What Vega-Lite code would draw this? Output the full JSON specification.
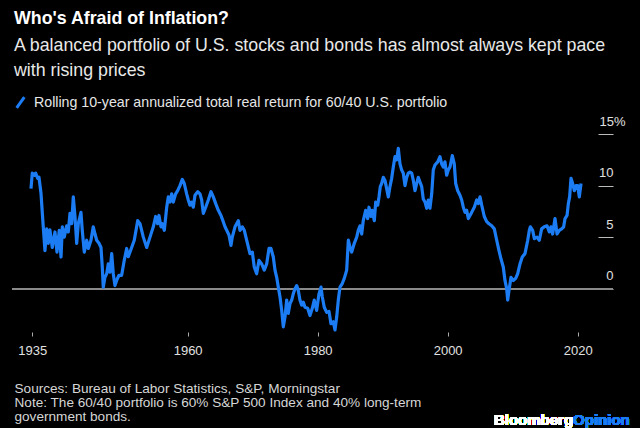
{
  "$schema": "https://vega.github.io/schema/vega-lite/v6.json",
  "width": 601,
  "height": 198,
  "autosize": {"type": "none"},
  "padding": {"left": 12, "top": 134, "right": 27, "bottom": 96},
  "background": "#000000",
  "config": {
    "view": {"stroke": null},
    "font": "Liberation Sans"
  },
  "title": {
    "text": "Who's Afraid of Inflation?",
    "subtitle": ["A balanced portfolio of U.S. stocks and bonds has almost always kept pace", "with rising prices"],
    "anchor": "start",
    "frame": "group",
    "dx": 2,
    "offset": 10,
    "font": "Liberation Sans",
    "fontSize": 17.8,
    "fontWeight": "bold",
    "color": "#ffffff",
    "subtitleFont": "Liberation Sans",
    "subtitleFontSize": 17.8,
    "subtitleColor": "#e8e8e8",
    "subtitleLineHeight": 25,
    "subtitlePadding": 9
  },
  "data": {
    "values": [
      {"t": 1935.90, "r": 9.7}, {"t": 1936.10, "r": 11.2}, {"t": 1936.41, "r": 11.0}, {"t": 1936.62, "r": 11.2},
      {"t": 1936.93, "r": 10.7}, {"t": 1937.13, "r": 10.8}, {"t": 1937.44, "r": 9.25}, {"t": 1937.79, "r": 6.0},
      {"t": 1938.05, "r": 3.7}, {"t": 1938.32, "r": 5.8}, {"t": 1938.56, "r": 4.4}, {"t": 1938.82, "r": 5.7},
      {"t": 1939.18, "r": 4.0}, {"t": 1939.59, "r": 5.5}, {"t": 1939.90, "r": 3.55}, {"t": 1940.25, "r": 5.66},
      {"t": 1940.52, "r": 3.07}, {"t": 1940.72, "r": 6.0}, {"t": 1941.02, "r": 5.0}, {"t": 1941.39, "r": 6.1},
      {"t": 1941.64, "r": 5.5}, {"t": 1941.90, "r": 7.3}, {"t": 1942.16, "r": 6.3}, {"t": 1942.41, "r": 8.9},
      {"t": 1942.67, "r": 7.0}, {"t": 1942.93, "r": 4.4}, {"t": 1943.18, "r": 6.3}, {"t": 1943.59, "r": 7.4},
      {"t": 1943.79, "r": 5.66}, {"t": 1944.10, "r": 3.55}, {"t": 1944.47, "r": 4.7}, {"t": 1944.72, "r": 3.9},
      {"t": 1945.13, "r": 4.7}, {"t": 1945.48, "r": 6.0}, {"t": 1945.75, "r": 5.3}, {"t": 1946.01, "r": 4.7},
      {"t": 1946.36, "r": 4.4}, {"t": 1946.67, "r": 4.0}, {"t": 1946.87, "r": 2.1}, {"t": 1947.02, "r": 0.15},
      {"t": 1947.28, "r": 1.1}, {"t": 1947.55, "r": 1.45}, {"t": 1947.79, "r": 2.4}, {"t": 1948.05, "r": 1.6},
      {"t": 1948.32, "r": 3.4}, {"t": 1948.56, "r": 1.45}, {"t": 1948.82, "r": 0.3}, {"t": 1949.08, "r": 0.8},
      {"t": 1949.44, "r": 1.3}, {"t": 1949.85, "r": 1.3}, {"t": 1950.25, "r": 2.75}, {"t": 1950.62, "r": 3.9},
      {"t": 1950.87, "r": 3.1}, {"t": 1951.39, "r": 4.0}, {"t": 1951.79, "r": 4.7}, {"t": 1952.32, "r": 6.6},
      {"t": 1952.67, "r": 6.3}, {"t": 1953.18, "r": 5.0}, {"t": 1953.70, "r": 4.0}, {"t": 1954.21, "r": 5.0},
      {"t": 1954.72, "r": 6.0}, {"t": 1955.08, "r": 7.0}, {"t": 1955.39, "r": 6.3}, {"t": 1955.59, "r": 7.1},
      {"t": 1955.90, "r": 6.0}, {"t": 1956.10, "r": 6.3}, {"t": 1956.41, "r": 5.66}, {"t": 1956.78, "r": 7.9},
      {"t": 1957.02, "r": 8.9}, {"t": 1957.28, "r": 8.4}, {"t": 1957.55, "r": 9.2}, {"t": 1957.79, "r": 8.4},
      {"t": 1958.16, "r": 9.2}, {"t": 1958.47, "r": 9.5}, {"t": 1958.82, "r": 10.0}, {"t": 1959.18, "r": 10.6},
      {"t": 1959.48, "r": 10.2}, {"t": 1959.85, "r": 9.2}, {"t": 1960.10, "r": 8.6}, {"t": 1960.36, "r": 8.1},
      {"t": 1960.62, "r": 8.4}, {"t": 1960.87, "r": 7.9}, {"t": 1961.13, "r": 9.06}, {"t": 1961.55, "r": 9.4},
      {"t": 1961.90, "r": 9.2}, {"t": 1962.16, "r": 8.6}, {"t": 1962.41, "r": 7.3}, {"t": 1962.78, "r": 7.9},
      {"t": 1963.18, "r": 8.6}, {"t": 1963.59, "r": 9.4}, {"t": 1963.95, "r": 8.9}, {"t": 1964.32, "r": 8.25},
      {"t": 1964.72, "r": 7.6}, {"t": 1965.13, "r": 7.1}, {"t": 1965.48, "r": 6.5}, {"t": 1965.75, "r": 6.0},
      {"t": 1966.01, "r": 5.66}, {"t": 1966.36, "r": 5.2}, {"t": 1966.67, "r": 4.2}, {"t": 1966.87, "r": 5.0},
      {"t": 1967.29, "r": 6.0}, {"t": 1967.79, "r": 6.6}, {"t": 1968.05, "r": 5.66}, {"t": 1968.41, "r": 6.0},
      {"t": 1968.72, "r": 5.66}, {"t": 1969.08, "r": 4.7}, {"t": 1969.59, "r": 3.4}, {"t": 1969.95, "r": 3.55},
      {"t": 1970.25, "r": 2.1}, {"t": 1970.62, "r": 1.45}, {"t": 1970.98, "r": 2.75}, {"t": 1971.39, "r": 2.4},
      {"t": 1971.79, "r": 1.8}, {"t": 1972.16, "r": 2.4}, {"t": 1972.52, "r": 3.9}, {"t": 1972.82, "r": 3.9},
      {"t": 1973.18, "r": 3.07}, {"t": 1973.44, "r": 1.8}, {"t": 1973.70, "r": 1.1}, {"t": 1973.95, "r": 0.15},
      {"t": 1974.21, "r": -0.8}, {"t": 1974.47, "r": -2.1}, {"t": 1974.72, "r": -3.7}, {"t": 1974.98, "r": -2.75},
      {"t": 1975.24, "r": -1.1}, {"t": 1975.48, "r": -2.4}, {"t": 1975.75, "r": -1.45}, {"t": 1976.01, "r": -1.1},
      {"t": 1976.25, "r": -0.5}, {"t": 1976.52, "r": 0.0}, {"t": 1976.78, "r": 0.3}, {"t": 1977.02, "r": -0.16},
      {"t": 1977.28, "r": -1.1}, {"t": 1977.55, "r": -1.6}, {"t": 1977.79, "r": -1.3}, {"t": 1978.05, "r": -1.8},
      {"t": 1978.47, "r": -1.9}, {"t": 1978.82, "r": -2.6}, {"t": 1979.18, "r": -1.9}, {"t": 1979.48, "r": -1.1},
      {"t": 1979.85, "r": -2.1}, {"t": 1980.21, "r": -0.5}, {"t": 1980.52, "r": 0.15}, {"t": 1980.72, "r": -0.8},
      {"t": 1981.02, "r": -1.8}, {"t": 1981.39, "r": -2.3}, {"t": 1981.75, "r": -2.2}, {"t": 1982.05, "r": -3.4},
      {"t": 1982.41, "r": -3.2}, {"t": 1982.67, "r": -4.0}, {"t": 1982.93, "r": -2.75}, {"t": 1983.18, "r": -1.1},
      {"t": 1983.44, "r": 0.15}, {"t": 1983.79, "r": 0.5}, {"t": 1984.10, "r": 1.0}, {"t": 1984.47, "r": 1.8},
      {"t": 1984.72, "r": 4.7}, {"t": 1984.98, "r": 4.0}, {"t": 1985.24, "r": 3.55}, {"t": 1985.64, "r": 4.4},
      {"t": 1986.01, "r": 5.0}, {"t": 1986.25, "r": 5.66}, {"t": 1986.52, "r": 6.1}, {"t": 1986.78, "r": 5.3},
      {"t": 1987.02, "r": 6.6}, {"t": 1987.39, "r": 7.6}, {"t": 1987.70, "r": 6.8}, {"t": 1987.90, "r": 7.9},
      {"t": 1988.21, "r": 7.0}, {"t": 1988.41, "r": 7.6}, {"t": 1988.72, "r": 6.6}, {"t": 1988.93, "r": 8.4},
      {"t": 1989.24, "r": 8.1}, {"t": 1989.44, "r": 8.9}, {"t": 1989.64, "r": 9.9}, {"t": 1989.85, "r": 10.2},
      {"t": 1990.10, "r": 10.8}, {"t": 1990.36, "r": 10.5}, {"t": 1990.62, "r": 9.7}, {"t": 1990.87, "r": 8.9},
      {"t": 1991.13, "r": 9.9}, {"t": 1991.39, "r": 10.7}, {"t": 1991.64, "r": 11.8}, {"t": 1991.90, "r": 12.8},
      {"t": 1992.16, "r": 12.5}, {"t": 1992.41, "r": 13.6}, {"t": 1992.67, "r": 12.1}, {"t": 1992.93, "r": 11.5},
      {"t": 1993.18, "r": 11.2}, {"t": 1993.44, "r": 10.0}, {"t": 1993.70, "r": 10.8}, {"t": 1993.95, "r": 11.2},
      {"t": 1994.21, "r": 11.3}, {"t": 1994.47, "r": 11.2}, {"t": 1994.72, "r": 10.5}, {"t": 1994.98, "r": 9.5},
      {"t": 1995.24, "r": 10.2}, {"t": 1995.48, "r": 10.8}, {"t": 1995.75, "r": 10.35}, {"t": 1996.01, "r": 9.9},
      {"t": 1996.25, "r": 8.7}, {"t": 1996.52, "r": 8.4}, {"t": 1996.78, "r": 7.8}, {"t": 1997.02, "r": 8.6},
      {"t": 1997.28, "r": 7.8}, {"t": 1997.55, "r": 9.2}, {"t": 1997.79, "r": 11.5}, {"t": 1998.05, "r": 12.0},
      {"t": 1998.47, "r": 12.3}, {"t": 1998.82, "r": 12.8}, {"t": 1999.08, "r": 12.1}, {"t": 1999.33, "r": 11.8},
      {"t": 1999.59, "r": 12.3}, {"t": 1999.85, "r": 11.0}, {"t": 2000.10, "r": 11.5}, {"t": 2000.36, "r": 11.8},
      {"t": 2000.72, "r": 12.9}, {"t": 2001.02, "r": 12.1}, {"t": 2001.24, "r": 10.2}, {"t": 2001.55, "r": 9.5},
      {"t": 2001.90, "r": 9.06}, {"t": 2002.16, "r": 8.6}, {"t": 2002.41, "r": 7.9}, {"t": 2002.67, "r": 7.4},
      {"t": 2002.93, "r": 7.6}, {"t": 2003.18, "r": 6.8}, {"t": 2003.44, "r": 7.1}, {"t": 2003.70, "r": 7.4},
      {"t": 2004.10, "r": 7.9}, {"t": 2004.47, "r": 8.6}, {"t": 2004.72, "r": 8.25}, {"t": 2004.98, "r": 8.9},
      {"t": 2005.24, "r": 8.1}, {"t": 2005.64, "r": 7.0}, {"t": 2006.01, "r": 6.5}, {"t": 2006.36, "r": 6.3},
      {"t": 2006.78, "r": 6.1}, {"t": 2007.18, "r": 5.8}, {"t": 2007.55, "r": 4.7}, {"t": 2007.90, "r": 3.7},
      {"t": 2008.20, "r": 2.9}, {"t": 2008.56, "r": 2.1}, {"t": 2008.82, "r": 0.8}, {"t": 2009.08, "r": 0.0},
      {"t": 2009.24, "r": -1.1}, {"t": 2009.44, "r": -0.16}, {"t": 2009.75, "r": 1.1}, {"t": 2010.10, "r": 0.8},
      {"t": 2010.47, "r": 1.0}, {"t": 2010.78, "r": 1.45}, {"t": 2011.13, "r": 2.4}, {"t": 2011.48, "r": 3.07},
      {"t": 2011.90, "r": 3.4}, {"t": 2012.32, "r": 4.7}, {"t": 2012.57, "r": 5.66}, {"t": 2012.73, "r": 6.0},
      {"t": 2013.08, "r": 5.66}, {"t": 2013.34, "r": 4.85}, {"t": 2013.75, "r": 5.0}, {"t": 2014.10, "r": 4.7},
      {"t": 2014.46, "r": 5.8}, {"t": 2014.87, "r": 6.0}, {"t": 2015.29, "r": 6.1}, {"t": 2015.64, "r": 5.5},
      {"t": 2015.90, "r": 6.0}, {"t": 2016.15, "r": 5.3}, {"t": 2016.52, "r": 6.8}, {"t": 2016.83, "r": 5.3},
      {"t": 2017.18, "r": 5.66}, {"t": 2017.54, "r": 5.8}, {"t": 2017.85, "r": 6.0}, {"t": 2018.06, "r": 6.8},
      {"t": 2018.37, "r": 7.1}, {"t": 2018.57, "r": 8.25}, {"t": 2018.77, "r": 8.9}, {"t": 2018.98, "r": 10.7},
      {"t": 2019.23, "r": 10.2}, {"t": 2019.49, "r": 9.5}, {"t": 2019.75, "r": 10.0}, {"t": 2020.00, "r": 10.0},
      {"t": 2020.26, "r": 8.9}, {"t": 2020.52, "r": 10.2}
    ]
  },
  "layer": [
    {
      "mark": {"type": "rule", "color": "#8a8a8a", "strokeWidth": 1.5},
      "encoding": {
        "y": {"datum": 0, "type": "quantitative"}
      }
    },
    {
      "mark": {"type": "line", "strokeWidth": 3.2, "strokeJoin": "round"},
      "encoding": {
        "x": {
          "field": "t",
          "type": "quantitative",
          "scale": {"domain": [1932.98, 2025.44], "nice": false, "zero": false},
          "axis": {
            "values": [1936.1, 1960, 1980, 2000, 2020],
            "format": "d",
            "labelExpr": "datum.value < 1950 ? '1935' : datum.label",
            "domain": false,
            "grid": false,
            "ticks": true,
            "tickSize": 4,
            "tickColor": "#aaaaaa",
            "tickWidth": 1,
            "labelColor": "#e0e0e0",
            "labelFont": "Liberation Sans",
            "labelFontSize": 13,
            "labelPadding": 8,
            "labelFlush": false,
            "labelOverlap": false,
            "title": ["Sources: Bureau of Labor Statistics, S&P, Morningstar", "Note: The 60/40 portfolio is 60% S&P 500 Index and 40% long-term", "government bonds."],
            "titleAnchor": "start",
            "titleAlign": "left",
            "titleBaseline": "alphabetic",
            "titleX": 2,
            "titleY": 60,
            "titleFont": "Liberation Sans",
            "titleFontSize": 13.6,
            "titleFontWeight": "normal",
            "titleColor": "#d6d6d6",
            "titleLineHeight": 14
          }
        },
        "y": {
          "field": "r",
          "type": "quantitative",
          "scale": {"domain": [-4.2, 15], "nice": false, "zero": false},
          "axis": {
            "orient": "right",
            "values": [0, 5, 10, 15],
            "labelExpr": "datum.value == 15 ? '15%' : datum.label",
            "domain": false,
            "grid": false,
            "tickSize": -15,
            "tickColor": "#bbbbbb",
            "tickWidth": 1,
            "labelAlign": "right",
            "labelBaseline": "alphabetic",
            "labelOffset": -9,
            "labelPadding": {"condition": {"test": "datum.value == 15", "value": 27}, "value": 15},
            "labelColor": "#e0e0e0",
            "labelFont": "Liberation Sans",
            "labelFontSize": 13,
            "title": null
          }
        },
        "color": {
          "datum": "Rolling 10-year annualized total real return for 60/40 U.S. portfolio",
          "type": "nominal",
          "scale": {"range": ["#1b7cf3"]},
          "legend": {
            "orient": "none",
            "legendX": -4,
            "legendY": -44,
            "title": null,
            "symbolType": "M-0.35,0.5L0.35,-0.5",
            "symbolStrokeColor": "#1b7cf3",
            "symbolFillColor": "#1b7cf3",
            "symbolStrokeWidth": 3,
            "symbolSize": 480,
            "labelFont": "Liberation Sans",
            "labelFontSize": 14.2,
            "labelColor": "#e6e6e6",
            "labelOffset": 1,
            "labelLimit": 600,
            "padding": 0
          }
        }
      }
    },
    {
      "mark": {"type": "text", "align": "right", "baseline": "alphabetic", "font": "Liberation Sans", "fontSize": 15, "fontWeight": "bold", "color": "#ffffff", "text": "Bloomberg"},
      "encoding": {
        "x": {"datum": 2019.3, "type": "quantitative"},
        "y": {"datum": -13.2, "type": "quantitative"}
      }
    },
    {
      "mark": {"type": "text", "align": "left", "baseline": "alphabetic", "font": "Liberation Sans", "fontSize": 15, "fontWeight": "bold", "color": "#1b7cf3", "text": "Opinion"},
      "encoding": {
        "x": {"datum": 2019.3, "type": "quantitative"},
        "y": {"datum": -13.2, "type": "quantitative"}
      }
    }
  ]
}
